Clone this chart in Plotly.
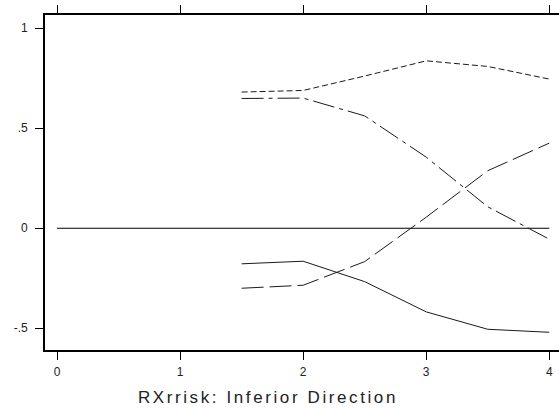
import plotly.graph_objects as go

# Effect estimates by RXrrisk level
x_vals = [1.5, 2.0, 2.5, 3.0, 3.5, 4.0]
series_a = [0.680, 0.688, 0.760, 0.836, 0.808, 0.745]    # short dash
series_b = [0.648, 0.650, 0.561, 0.355, 0.107, -0.055]  # long-short dash
series_c = [-0.300, -0.285, -0.167, 0.055, 0.287, 0.425] # long dash
series_d = [-0.178, -0.165, -0.267, -0.418, -0.505, -0.520]  # solid

ref_x = [0, 4]
ref_y = [0, 0]

x_ticks = [0, 1, 2, 3, 4]
x_tick_text = ["0", "1", "2", "3", "4"]
y_ticks = [-0.5, 0, 0.5, 1]
y_tick_text = ["-.5", "0", ".5", "1"]

x_title = "RXrrisk: Inferior Direction"

line_color = "#1a1a1a"
font_family = "Liberation Sans, Arial, Helvetica, sans-serif"

fig = go.Figure()

fig.add_trace(go.Scatter(x=ref_x, y=ref_y, mode="lines",
                         line=dict(color="black", width=1.1)))
fig.add_trace(go.Scatter(x=x_vals, y=series_a, mode="lines",
                         line=dict(color=line_color, width=1, dash="6px,3px")))
fig.add_trace(go.Scatter(x=x_vals, y=series_b, mode="lines",
                         line=dict(color=line_color, width=1, dash="22px,5px,4px,5px")))
fig.add_trace(go.Scatter(x=x_vals, y=series_c, mode="lines",
                         line=dict(color=line_color, width=1, dash="22px,6px")))
fig.add_trace(go.Scatter(x=x_vals, y=series_d, mode="lines",
                         line=dict(color=line_color, width=1)))

# Axis caption placed as an annotation below the x axis
fig.add_annotation(
    text=x_title, xref="paper", yref="paper",
    x=0.4348, y=-0.143, xanchor="center", yanchor="middle",
    showarrow=False, font=dict(size=17, family=font_family, color="#222"),
)

fig.update_layout(
    width=559, height=408,
    margin=dict(l=45, r=0, t=15, b=58),
    paper_bgcolor="white", plot_bgcolor="white",
    showlegend=False,
    font=dict(family=font_family, color="#222", size=12),
    xaxis=dict(
        range=[-0.0976, 4.079],
        tickvals=x_ticks, ticktext=x_tick_text,
        ticks="outside", ticklen=8, tickwidth=1.2, tickcolor="black",
        showline=True, linecolor="black", linewidth=1.6, mirror="ticks",
        showgrid=False, zeroline=False,
        tickfont=dict(size=12), ticklabelstandoff=2,
    ),
    yaxis=dict(
        range=[-0.6085, 1.065],
        tickvals=y_ticks, ticktext=y_tick_text,
        ticks="outside", ticklen=8, tickwidth=1.2, tickcolor="black",
        showline=True, linecolor="black", linewidth=1.6,
        showgrid=False, zeroline=False,
        tickfont=dict(size=12), ticklabelstandoff=5,
    ),
)

# Widen the caption's letter spacing once the plot is drawn
spacing_js = (
    "document.querySelectorAll('g.annotation text').forEach("
    "function(t){t.style.letterSpacing='2.6px';});"
)

fig.write_html("out.html", post_script=spacing_js)
